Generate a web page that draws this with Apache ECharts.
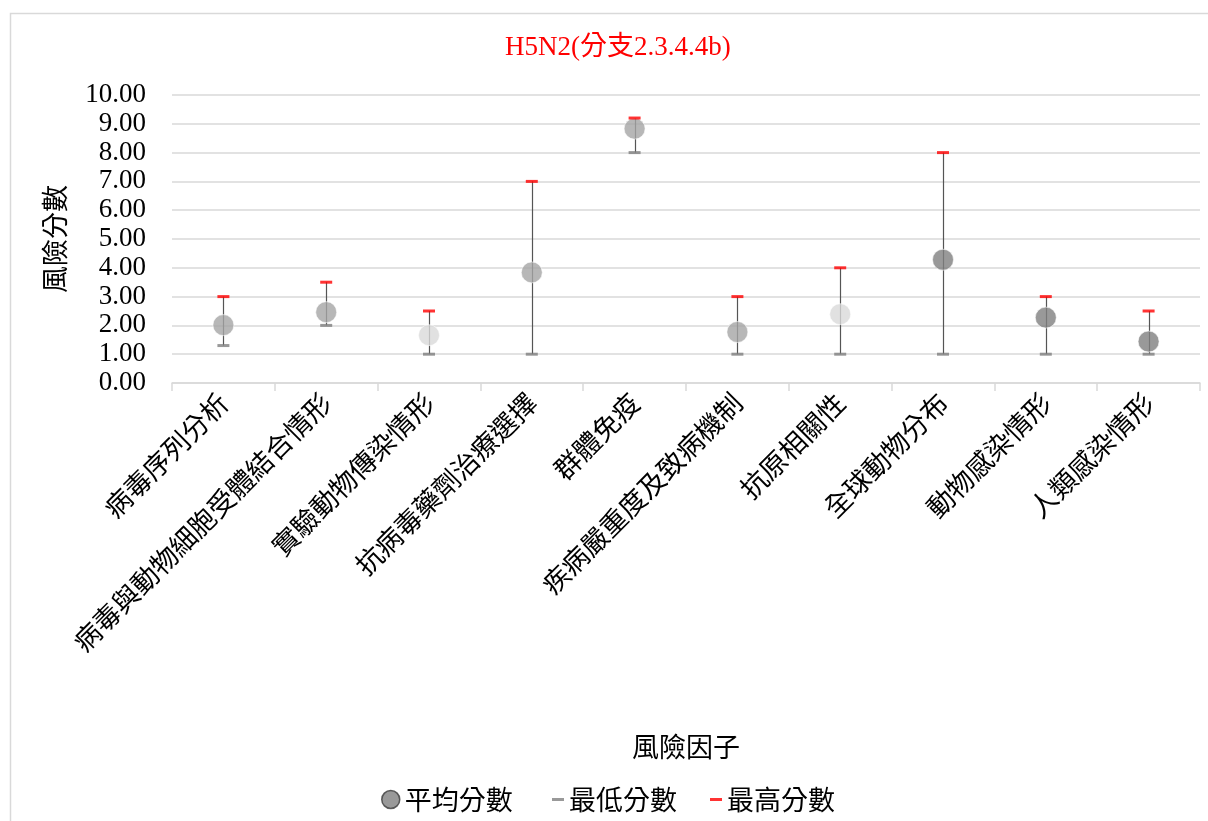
<!DOCTYPE html>
<html>
<head>
<meta charset="utf-8">
<script src="https://cdn.jsdelivr.net/npm/echarts@6/dist/echarts.min.js"></script>
<style>
  html, body { margin: 0; padding: 0; background: #fff; }
  #chart { width: 1208px; height: 821px; }
</style>
</head>
<body>
<div id="chart"></div>
<script>
// Risk factors for H5N2 (clade 2.3.4.4b): mean, lowest and highest scores
const categories = [
  '病毒序列分析', '病毒與動物細胞受體結合情形', '實驗動物傳染情形', '抗病毒藥劑治療選擇',
  '群體免疫', '疾病嚴重度及致病機制', '抗原相關性', '全球動物分布', '動物感染情形', '人類感染情形'
];
const meanScores = [2.01, 2.46, 1.66, 3.84, 8.83, 1.77, 2.39, 4.28, 2.27, 1.44];
const minScores  = [1.3, 2.0, 1.0, 1.0, 8.0, 1.0, 1.0, 1.0, 1.0, 1.0];
const maxScores  = [3.0, 3.5, 2.5, 7.0, 9.2, 3.0, 4.0, 8.0, 3.0, 2.5];
const pointColors = ['#a5a5a5', '#a5a5a5', '#d9d9d9', '#a5a5a5', '#a5a5a5',
                     '#a5a5a5', '#d9d9d9', '#7f7f7f', '#7f7f7f', '#7f7f7f'];
const yTicks = [0, 1, 2, 3, 4, 5, 6, 7, 8, 9, 10];

const cjk = '"Noto Sans CJK TC", "Noto Sans CJK SC", sans-serif';
const serif = '"Liberation Serif", "Noto Sans CJK TC", serif';

const chart = echarts.init(document.getElementById('chart'));

chart.setOption({
  backgroundColor: '#fff',
  animation: false,
  title: {
    text: 'H5N2(分支2.3.4.4b)',
    left: 500,
    top: 29,
    textStyle: { color: '#ff0000', fontFamily: serif, fontSize: 27, fontWeight: 'normal' }
  },
  graphic: [{
    type: 'rect',
    shape: { x: 10.5, y: 13.5, width: 1220, height: 830 },
    style: { fill: 'none', stroke: '#d9d9d9', lineWidth: 1.5 },
    silent: true
  }],
  legend: [{
    data: [{ name: '平均分數', itemStyle: { color: '#808080', borderColor: '#3a3a3a', borderWidth: 1.5 } }],
    left: 376,
    top: 781,
    icon: 'circle',
    itemWidth: 18,
    itemHeight: 18,
    itemGap: 6,
    textStyle: { fontFamily: cjk, fontSize: 27, color: '#000' }
  }, {
    data: ['最低分數', '最高分數'],
    left: 547,
    top: 781,
    icon: 'rect',
    itemWidth: 12,
    itemHeight: 3,
    itemGap: 33,
    textStyle: { fontFamily: cjk, fontSize: 27, color: '#000' }
  }],
  grid: { left: 172, right: 8, top: 95, bottom: 438 },
  xAxis: {
    type: 'category',
    data: categories,
    name: '風險因子',
    nameLocation: 'middle',
    nameGap: 350,
    nameTextStyle: { fontFamily: cjk, fontSize: 27, color: '#000' },
    axisLine: { lineStyle: { color: '#d9d9d9', width: 1.5 } },
    axisTick: { show: true, length: 8, lineStyle: { color: '#d9d9d9', width: 1.5 } },
    axisLabel: {
      interval: 0,
      rotate: 45,
      margin: 15,
      fontFamily: cjk,
      fontSize: 27,
      color: '#000'
    }
  },
  yAxis: {
    type: 'value',
    min: yTicks[0],
    max: yTicks[yTicks.length - 1],
    interval: 1,
    name: '風險分數',
    nameLocation: 'middle',
    nameRotate: 90,
    nameGap: 104,
    nameTextStyle: { fontFamily: cjk, fontSize: 27, color: '#000' },
    axisLine: { show: false },
    axisTick: { show: false },
    splitLine: { lineStyle: { color: '#d9d9d9', width: 1.5 } },
    axisLabel: {
      margin: 26,
      fontFamily: serif,
      fontSize: 27,
      color: '#000',
      formatter: v => v.toFixed(2)
    }
  },
  series: [{
    // high-low line between lowest and highest score
    type: 'custom',
    name: 'range',
    silent: true,
    z: 1,
    data: categories.map((c, i) => [i, minScores[i], maxScores[i]]),
    renderItem: (params, api) => {
      const lo = api.coord([api.value(0), api.value(1)]);
      const hi = api.coord([api.value(0), api.value(2)]);
      return {
        type: 'line',
        shape: { x1: Math.round(lo[0]) + 0.5, y1: lo[1], x2: Math.round(hi[0]) + 0.5, y2: hi[1] },
        style: { stroke: '#555555', lineWidth: 1.2 }
      };
    }
  }, {
    type: 'scatter',
    name: '平均分數',
    z: 3,
    symbol: 'circle',
    symbolSize: 21,
    itemStyle: { color: '#808080', borderColor: 'rgba(255,255,255,0.7)', borderWidth: 1 },
    data: meanScores.map((v, i) => ({ value: v, itemStyle: { color: pointColors[i] } }))
  }, {
    type: 'scatter',
    name: '最低分數',
    z: 4,
    symbol: 'rect',
    symbolSize: [12, 3],
    itemStyle: { color: '#7f7f7f' },
    data: minScores
  }, {
    type: 'scatter',
    name: '最高分數',
    z: 5,
    symbol: 'rect',
    symbolSize: [12, 3],
    itemStyle: { color: '#ff0000' },
    data: maxScores
  }]
});
</script>
</body>
</html>
